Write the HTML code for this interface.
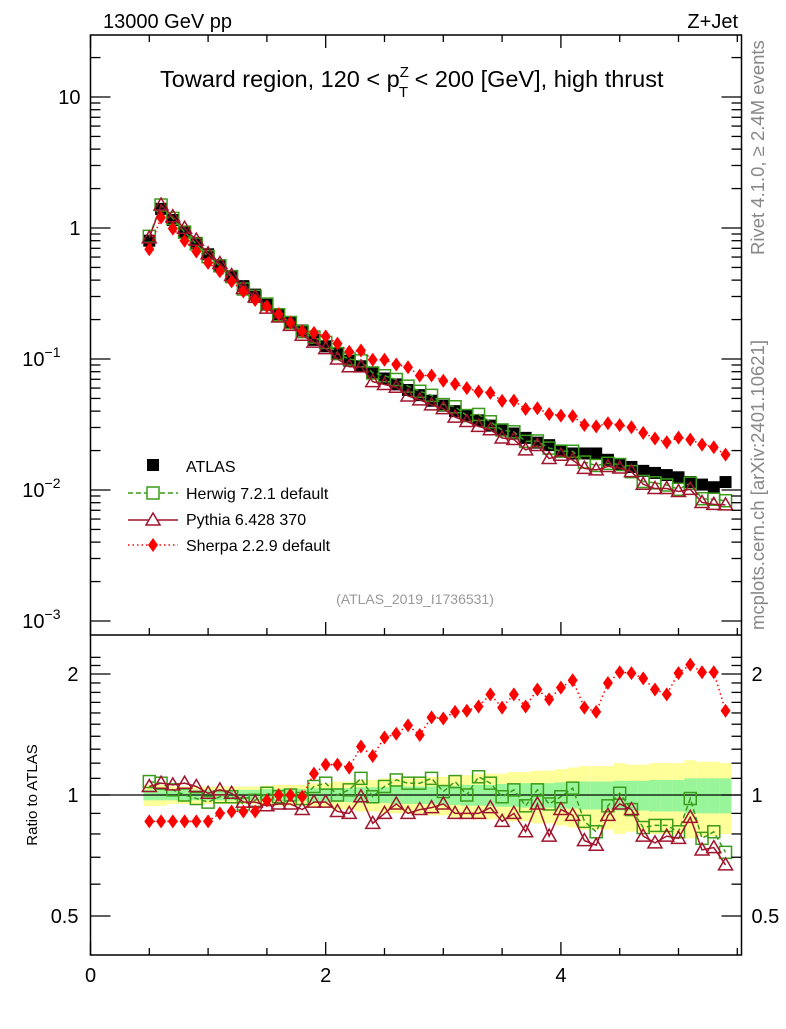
<!DOCTYPE html>
<html><head><meta charset="utf-8"><style>
body{margin:0;background:#fff;}
svg text{font-family:"Liberation Sans",sans-serif;fill:#000;}
</style></head><body>
<svg id="chart" width="786" height="1024" xmlns="http://www.w3.org/2000/svg">
<g id="bands"></g>
<g id="series"></g>
<g id="axes"></g>
<g id="labels">
<text x="103" y="28" font-size="20">13000 GeV pp</text>
<text x="738" y="28" font-size="20" text-anchor="end">Z+Jet</text>
<text x="160" y="87" font-size="23.5">Toward region, 120 &lt; p<tspan font-size="15" dy="-10">Z</tspan><tspan font-size="15" dx="-10" dy="20">T</tspan><tspan dy="-10"> &lt; 200 [GeV], high thrust</tspan></text>
<text x="415" y="604" font-size="14" style="fill:#999" text-anchor="middle">(ATLAS_2019_I1736531)</text>
<text transform="translate(764,255) rotate(-90)" font-size="18.5" style="fill:#888">Rivet 4.1.0, ≥ 2.4M events</text>
<text transform="translate(764,630) rotate(-90)" font-size="18.5" style="fill:#888">mcplots.cern.ch [arXiv:2401.10621]</text>
<text transform="translate(37,795) rotate(-90)" font-size="15" text-anchor="middle">Ratio to ATLAS</text>
</g>
<g id="legend">
<rect x="147" y="459" width="12" height="12" fill="#000"/>
<text x="186" y="472" font-size="16">ATLAS</text>
<line x1="128" y1="493" x2="178" y2="493" stroke="#3a9c1a" stroke-width="1.5" stroke-dasharray="5,3"/>
<rect x="147" y="487" width="12" height="12" fill="#fff" stroke="#3a9c1a" stroke-width="1.5"/>
<text x="186" y="499" font-size="16">Herwig 7.2.1 default</text>
<line x1="128" y1="520" x2="178" y2="520" stroke="#a0142d" stroke-width="1.5"/>
<polygon points="153,513 160,525 146,525" fill="#fff" stroke="#a0142d" stroke-width="1.5"/>
<text x="186" y="525" font-size="16">Pythia 6.428 370</text>
<line x1="128" y1="545" x2="178" y2="545" stroke="#f00" stroke-width="1.5" stroke-dasharray="1.5,3"/>
<polygon points="153,538 158,545 153,552 148,545" fill="#f00"/>
<text x="186" y="551" font-size="16">Sherpa 2.2.9 default</text>
</g>
</svg>
<script>
const xCenters=[0.5,0.6,0.7,0.8,0.9,1.0,1.1,1.2,1.3,1.4,1.5,1.6,1.7,1.8,1.9,2.0,2.1,2.2,2.3,2.4,2.5,2.6,2.7,2.8,2.9,3.0,3.1,3.2,3.3,3.4,3.5,3.6,3.7,3.8,3.9,4.0,4.1,4.2,4.3,4.4,4.5,4.6,4.7,4.8,4.9,5.0,5.1,5.2,5.3,5.4];
const atlasVals=[0.8,1.4,1.15,0.93,0.77,0.63,0.52,0.43,0.36,0.31,0.26,0.22,0.19,0.165,0.14,0.125,0.11,0.097,0.088,0.079,0.071,0.064,0.058,0.053,0.048,0.044,0.040,0.037,0.034,0.031,0.029,0.027,0.025,0.023,0.022,0.020,0.019,0.019,0.019,0.017,0.0155,0.015,0.014,0.0135,0.013,0.0125,0.0115,0.011,0.0105,0.0115];
const greenErr=[0.03,0.03,0.03,0.03,0.03,0.03,0.03,0.03,0.03,0.03,0.035,0.035,0.035,0.035,0.04,0.04,0.04,0.04,0.045,0.045,0.045,0.05,0.05,0.05,0.05,0.055,0.055,0.06,0.06,0.06,0.065,0.065,0.07,0.07,0.07,0.075,0.075,0.08,0.08,0.08,0.085,0.085,0.085,0.09,0.09,0.09,0.1,0.1,0.1,0.1];
const yellowErr=[0.06,0.06,0.05,0.05,0.05,0.05,0.05,0.05,0.05,0.05,0.055,0.06,0.06,0.06,0.07,0.07,0.08,0.08,0.09,0.09,0.1,0.1,0.1,0.1,0.11,0.11,0.12,0.12,0.13,0.13,0.13,0.14,0.14,0.15,0.15,0.16,0.17,0.18,0.18,0.18,0.2,0.19,0.19,0.2,0.2,0.2,0.22,0.21,0.21,0.2];
const herwigRatio=[1.08,1.07,1.03,1.0,0.98,0.96,0.99,0.99,0.95,0.97,1.01,0.99,1.0,0.98,1.05,1.07,1.0,1.03,1.10,0.99,1.05,1.09,1.07,1.07,1.10,1.02,1.08,1.0,1.11,1.07,0.99,1.03,0.94,1.03,0.95,0.99,1.04,0.86,0.81,0.94,1.01,0.92,0.83,0.84,0.84,0.81,0.98,0.78,0.81,0.72];
const pythiaRatio=[1.05,1.07,1.06,1.07,1.05,1.01,1.03,1.01,0.96,0.96,0.94,0.95,0.95,0.92,0.96,0.96,0.91,0.90,0.99,0.85,0.90,0.95,0.90,0.92,0.93,0.95,0.90,0.90,0.90,0.93,0.86,0.90,0.81,0.95,0.79,0.92,0.89,0.77,0.75,0.89,0.95,0.92,0.79,0.76,0.79,0.78,0.88,0.73,0.74,0.67];
const sherpaRatio=[0.86,0.86,0.86,0.86,0.86,0.86,0.90,0.91,0.91,0.91,0.97,1.0,1.0,0.99,1.13,1.19,1.19,1.17,1.32,1.25,1.39,1.42,1.49,1.41,1.56,1.55,1.61,1.62,1.66,1.78,1.65,1.78,1.66,1.83,1.73,1.85,1.93,1.65,1.61,1.90,2.02,2.01,1.95,1.83,1.78,2.01,2.11,2.02,2.02,1.62];
const xTicks=[0,2,4];
const mainTicks=[0.001,0.01,0.1,1,10];
const mainTickLabels=["10","10","10","1","10"];
const ratioTicks=[0.5,1,2];

const NS="http://www.w3.org/2000/svg";
const L=90.5,R=741.5,T=35,MB=635,RB=955;
const xs=v=>L+v*117.6;
const ym=v=>228-131*Math.log10(v);
const yr=v=>795-121*Math.log2(v);
function mk(tag,attrs,parent){const e=document.createElementNS(NS,tag);for(const k in attrs)e.setAttribute(k,attrs[k]);document.getElementById(parent).appendChild(e);return e;}
const hw=0.05;
xCenters.forEach((x,i)=>{
 const b1=mk('rect',{x:xs(x-hw),width:xs(x+hw)-xs(x-hw),y:yr(1+yellowErr[i]),height:yr(1-yellowErr[i])-yr(1+yellowErr[i]),fill:'#ffff99'},'bands');
 
 
});
xCenters.forEach((x,i)=>{
 const b2=mk('rect',{x:xs(x-hw),width:xs(x+hw)-xs(x-hw),y:yr(1+greenErr[i]),height:yr(1-greenErr[i])-yr(1+greenErr[i]),fill:'#99f599'},'bands');
 
 
});
const one=mk('line',{x1:L,x2:R,y1:yr(1),y2:yr(1),stroke:'#000','stroke-width':1.3},'bands');


function clipY(y,top,bot){return Math.max(top,Math.min(bot,y));}
function series(name,vals,yf,top,bot,color,dash,marker){
 const pts=xCenters.map((x,i)=>[xs(x),clipY(yf(vals[i]),top,bot)]);
 const pl=mk('polyline',{points:pts.map(p=>p.join(',')).join(' '),fill:'none',stroke:color,'stroke-width':1.5,'stroke-dasharray':dash},'series');
 
 
 pts.forEach(p=>{
  let m;
  if(marker==='sq') m=mk('rect',{x:p[0]-6,y:p[1]-6,width:12,height:12,fill:'none',stroke:color,'stroke-width':1.5},'series');
  else if(marker==='tri') m=mk('polygon',{points:`${p[0]},${p[1]-7} ${p[0]+7},${p[1]+5} ${p[0]-7},${p[1]+5}`,fill:'none',stroke:color,'stroke-width':1.5},'series');
  else m=mk('polygon',{points:`${p[0]},${p[1]-7} ${p[0]+5},${p[1]} ${p[0]},${p[1]+7} ${p[0]-5},${p[1]}`,fill:color},'series');
  
  
 });
}
const herwigMain=atlasVals.map((v,i)=>v*herwigRatio[i]);
const pythiaMain=atlasVals.map((v,i)=>v*pythiaRatio[i]);
const sherpaMain=atlasVals.map((v,i)=>v*sherpaRatio[i]);
xCenters.forEach((x,i)=>{
 const r=mk('rect',{x:xs(x)-6,y:ym(atlasVals[i])-6,width:12,height:12,fill:'#000'},'series');
 
 
});
series('herwig',herwigMain,ym,T,MB,'#3a9c1a','5,3','sq');
series('pythia',pythiaMain,ym,T,MB,'#a0142d','none','tri');
series('sherpa',sherpaMain,ym,T,MB,'#ff0000','1.5,3','dia');
series('herwig-ratio',herwigRatio,yr,MB,RB,'#3a9c1a','5,3','sq');
series('pythia-ratio',pythiaRatio,yr,MB,RB,'#a0142d','none','tri');
series('sherpa-ratio',sherpaRatio,yr,MB,RB,'#ff0000','1.5,3','dia');
function ln(x1,y1,x2,y2,name,w){const e=mk('line',{x1,y1,x2,y2,stroke:'#000','stroke-width':w||1.3},'axes');return e;}
function tx(x,y,s,anchor,name,size){const e=mk('text',{x,y,'font-size':size||20,'text-anchor':anchor},'axes');e.textContent=s;return e;}
const fr=mk('rect',{x:L,y:T,width:R-L,height:RB-T,fill:'none',stroke:'#000','stroke-width':1.5},'axes');


ln(L,MB,R,MB,'panel-divider',1.5);
for(let d=-3;d<=1;d++){for(let k=1;k<10;k++){const v=k*Math.pow(10,d);const y=ym(v);if(y<T||y>MB)continue;const len=k===1?20:10;ln(L,y,L+len,y,'y-tick');ln(R,y,R-len,y,'y-tick-right');}}
mainTicks.forEach((v,i)=>{const y=ym(v);const t=tx(L-10,y+7,mainTickLabels[i],'end','y-tick-label');
 if(v<1){const s=document.createElementNS(NS,'tspan');s.setAttribute('font-size','14');s.setAttribute('dy','-9');s.textContent='−'+Math.round(-Math.log10(v));t.appendChild(s);t.setAttribute('x',L-30);}});
[0.5,0.6,0.7,0.8,0.9,1,1.1,1.2,1.3,1.4,1.5,1.6,1.7,1.8,1.9,2,2.1,2.2].forEach(v=>{const y=yr(v);const len=(v===0.5||v===1||v===2)?20:10;ln(L,y,L+len,y,'ratio-tick');ln(R,y,R-len,y,'ratio-tick-right');});
ratioTicks.forEach(v=>{const y=yr(v);tx(L-12,y+7,String(v),'end','ratio-tick-label');tx(R+10,y+7,String(v),'start','ratio-tick-label-right');});
for(let v=0;v<=5.5;v+=0.5){const x=xs(v);const maj=(v%2===0);const len=maj?13:7;ln(x,RB,x,RB-len,'x-tick');ln(x,MB,x,MB-len,'x-tick-mid');ln(x,T,x,T+len,'x-tick-top');}
xTicks.forEach(v=>tx(xs(v),RB+27,String(v),'middle','x-tick-label'));
</script>
</body></html>
